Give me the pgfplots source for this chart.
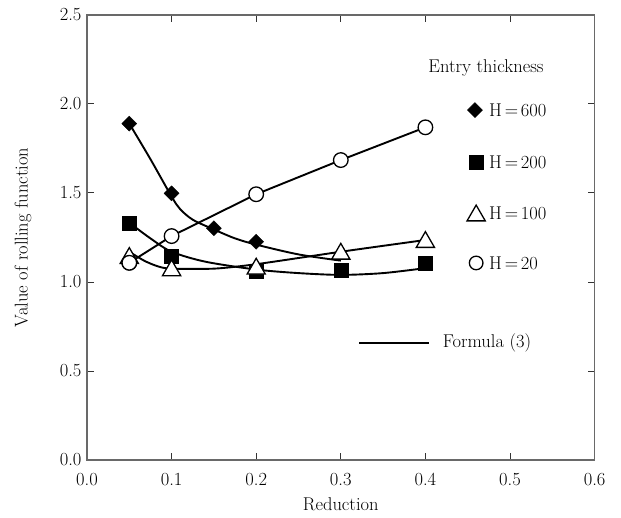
\documentclass[border=0pt]{standalone}
\usepackage{pgfplots}
\pgfplotsset{compat=1.18}
\definecolor{axisgray}{RGB}{105,105,105}
\newcommand{\fs}{\fontsize{18.5}{22}\selectfont}
\begin{document}
\begin{tikzpicture}
\begin{axis}[
  at={(0,0)}, anchor=south west,
  scale only axis, width=507.6pt, height=445pt,
  xmin=0, xmax=0.6, ymin=0, ymax=2.5,
  xtick={0,0.1,0.2,0.3,0.4,0.5,0.6},
  ytick={0,0.5,1,1.5,2,2.5},
  xticklabels={0.0,0.1,0.2,0.3,0.4,0.5,0.6},
  yticklabels={0.0,0.5,1.0,1.5,2.0,2.5},
  tick align=inside,
  major tick length=7pt,
  tick style={line width=1pt, color=black!80},
  axis line style={line width=1.5pt, draw=axisgray},
  tick label style={font=\fs},
  xticklabel style={yshift=-10pt},
  yticklabel style={xshift=-2pt},
  label style={font=\fs},
  xlabel={Reduction},
  ylabel={Value of rolling function},
  xlabel style={at={(axis description cs:0.5,-0.099)}, anchor=center},
  ylabel style={at={(axis description cs:-0.126,0.5)}, anchor=center},
  clip=false,
]
% Formula (3) curves
\addplot[black, line width=1.9pt, smooth, tension=0.5] coordinates {
 (0.05,1.89) (0.075,1.69) (0.1,1.48) (0.11,1.41) (0.125,1.35) (0.15,1.295) (0.175,1.245) (0.2,1.21) (0.25,1.155) (0.3,1.12)};
\addplot[black, line width=1.9pt, smooth, tension=0.5] coordinates {
 (0.05,1.333) (0.075,1.245) (0.1,1.17) (0.14,1.114) (0.2,1.07) (0.25,1.05) (0.3,1.04) (0.35,1.05) (0.4,1.078)};
\addplot[black, line width=1.9pt, smooth, tension=0.4] coordinates {
 (0.05,1.17) (0.07,1.114) (0.094,1.077) (0.15,1.075) (0.2,1.1) (0.3,1.17) (0.4,1.236)};
% H=20 (circles, joined by line)
\addplot[black, line width=1.9pt, mark=*, mark size=7.3pt, mark options={fill=white, draw=black, line width=1.3pt}] coordinates {
 (0.05,1.108) (0.1,1.258) (0.2,1.493) (0.3,1.685) (0.4,1.869)};
% H=600 diamonds
\addplot[only marks, mark=square*, mark size=5.3pt, mark options={rotate=45, fill=black, draw=black}] coordinates {
 (0.05,1.89) (0.1,1.498) (0.15,1.302) (0.2,1.226)};
% H=200 squares
\addplot[only marks, mark=square*, mark size=7pt, mark options={fill=black, draw=black}] coordinates {
 (0.05,1.333) (0.1,1.144) (0.2,1.058) (0.3,1.067) (0.4,1.108)};
% H=100 triangles
\addplot[only marks, mark=triangle*, mark size=10.5pt, mark options={fill=white, draw=black, line width=1.3pt}] coordinates {
 (0.05,1.134) (0.1,1.065) (0.2,1.074) (0.3,1.158) (0.4,1.224)};
% circle at 0.05 on top
\addplot[only marks, mark=*, mark size=7.3pt, mark options={fill=white, draw=black, line width=1.3pt}] coordinates {
 (0.05,1.108)};
% legend samples
\addplot[only marks, mark=square*, mark size=5.3pt, mark options={rotate=45, fill=black, draw=black}] coordinates {(0.4586,1.966)};
\addplot[only marks, mark=square*, mark size=7pt, mark options={fill=black, draw=black}] coordinates {(0.46,1.674)};
\addplot[only marks, mark=triangle*, mark size=10.5pt, mark options={fill=white, draw=black, line width=1.3pt}] coordinates {(0.46,1.373)};
\addplot[only marks, mark=*, mark size=6.8pt, mark options={fill=white, draw=black, line width=1.3pt}] coordinates {(0.46,1.107)};
\addplot[black, line width=2.6pt] coordinates {(0.322,0.657) (0.404,0.657)};
\node[font=\fs, anchor=center] at (axis cs:0.4716,2.202) {Entry thickness};
\node[font=\fs, anchor=west, inner sep=0pt] at (axis cs:0.4752,1.966) {H\hspace{0.15em}=\hspace{0.15em}600};
\node[font=\fs, anchor=west, inner sep=0pt] at (axis cs:0.4752,1.674) {H\hspace{0.15em}=\hspace{0.15em}200};
\node[font=\fs, anchor=west, inner sep=0pt] at (axis cs:0.4752,1.388) {H\hspace{0.15em}=\hspace{0.15em}100};
\node[font=\fs, anchor=west, inner sep=0pt] at (axis cs:0.4752,1.107) {H\hspace{0.15em}=\hspace{0.15em}20};
\node[font=\fs, anchor=west, inner sep=0pt] at (axis cs:0.4205,0.657) {Formula (3)};
\end{axis}
\pgfresetboundingbox
\path (-87pt,-57pt) rectangle (534pt,460pt);
\end{tikzpicture}
\end{document}
